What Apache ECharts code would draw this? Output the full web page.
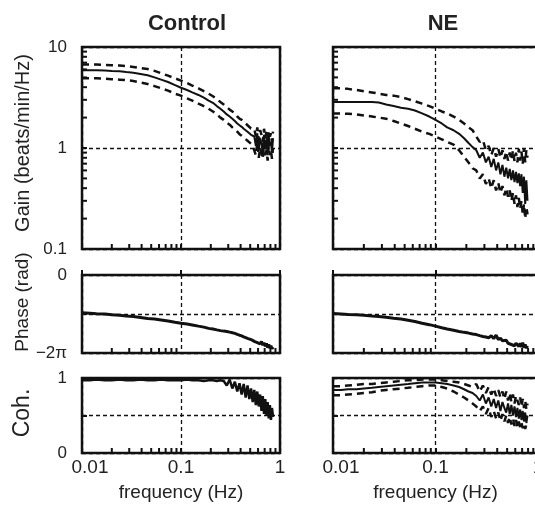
<!DOCTYPE html>
<html><head><meta charset="utf-8">
<script src="https://cdn.jsdelivr.net/npm/echarts/dist/echarts.min.js"></script>
<style>html,body{margin:0;padding:0;background:#fff}#c{width:535px;height:511px}</style>
</head><body><div id="c"></div>
<script>
// ---- data ----
const freq = [0.01,0.012,0.014,0.017,0.02,0.024,0.028,0.033,0.039,0.046,
  0.054,0.063,0.074,0.087,0.1,0.115,0.13,0.15,0.17,0.19,
  0.21,0.23,0.25,0.27,0.29,0.31,0.33,0.35,0.37,0.39,
  0.41,0.43,0.45,0.47,0.49,0.51,0.53,0.55,0.57,0.59,
  0.61,0.63,0.65,0.67,0.69,0.71,0.73,0.75,0.77,0.79,
  0.81,0.83,0.85];

const ctrlGain = [5.9,5.9,5.9,5.85,5.8,5.75,5.65,5.55,5.4,5.25,
  5.0,4.75,4.5,4.2,3.95,3.75,3.55,3.35,3.15,2.95,
  2.8,2.6,2.45,2.3,2.15,2.05,1.95,1.85,1.75,1.68,
  1.62,1.55,1.5,1.45,1.4,1.35,1.3,
  1.3,1.05,1.4,0.95,1.25,1.1,0.9,1.35,1.0,1.2,0.85,1.3,1.05,1.15,0.9,1.25];
const ctrlGainUp = [6.7,6.7,6.7,6.65,6.6,6.55,6.45,6.35,6.2,6.05,
  5.8,5.5,5.2,4.9,4.65,4.4,4.15,3.9,3.65,3.45,
  3.25,3.05,2.85,2.7,2.55,2.4,2.3,2.2,2.05,1.95,
  1.9,1.82,1.75,1.68,1.62,1.56,1.5,
  1.55,1.3,1.6,1.2,1.5,1.35,1.15,1.55,1.25,1.45,1.1,1.5,1.3,1.4,1.15,1.45];
const ctrlGainLo = [4.9,4.9,4.9,4.85,4.8,4.75,4.7,4.6,4.45,4.3,
  4.1,3.9,3.7,3.45,3.3,3.1,2.95,2.75,2.6,2.45,
  2.3,2.15,2.0,1.9,1.78,1.7,1.6,1.52,1.45,1.37,
  1.32,1.27,1.22,1.18,1.14,1.1,1.05,
  1.05,0.85,1.15,0.8,1.0,0.9,0.78,1.1,0.85,0.95,0.75,1.05,0.85,0.95,0.78,1.0];

const neGain = [2.85,2.85,2.85,2.85,2.85,2.85,2.82,2.7,2.6,2.5,
  2.45,2.35,2.2,2.05,1.9,1.75,1.6,1.5,1.38,1.25,
  1.12,1.02,0.95,0.8,0.9,0.72,0.82,0.65,0.78,0.6,
  0.72,0.55,0.68,0.52,0.64,0.5,0.62,0.48,0.6,0.46,
  0.58,0.45,0.56,0.42,0.55,0.36,0.52,0.28,0.48,0.3];
const neGainUp = [3.9,3.9,3.85,3.75,3.65,3.55,3.45,3.35,3.3,3.2,
  3.05,2.9,2.75,2.6,2.45,2.3,2.2,2.05,1.9,1.75,
  1.6,1.5,1.3,1.15,1.2,0.95,1.05,0.85,1.0,0.82,
  0.98,0.8,0.95,0.78,0.92,0.75,0.9,0.76,0.95,0.74,
  0.9,0.72,0.98,0.75,0.92,0.7,1.0,0.72,0.95,0.8];
const neGainLo = [2.2,2.2,2.18,2.15,2.1,2.05,2.0,1.95,1.85,1.75,
  1.65,1.55,1.45,1.38,1.3,1.22,1.15,1.08,0.95,0.82,
  0.72,0.63,0.6,0.5,0.55,0.44,0.5,0.4,0.48,0.38,
  0.45,0.36,0.42,0.34,0.4,0.33,0.38,0.3,0.36,0.28,
  0.34,0.26,0.32,0.25,0.3,0.22,0.28,0.2,0.26,0.22];

const ctrlPhase = [-3.05,-3.08,-3.12,-3.15,-3.2,-3.25,-3.3,-3.35,-3.42,-3.5,
  -3.55,-3.62,-3.7,-3.8,-3.88,-3.95,-4.02,-4.12,-4.2,-4.3,
  -4.35,-4.42,-4.48,-4.52,-4.55,-4.6,-4.65,-4.7,-4.78,-4.85,
  -4.9,-4.98,-5.02,-5.1,-5.15,-5.2,-5.25,-5.35,-5.2,-5.45,
  -5.3,-5.55,-5.35,-5.65,-5.45,-5.75,-5.5,-5.85,-5.6,-5.9,
  -5.7,-5.95,-5.8];
const nePhase = [-3.1,-3.14,-3.18,-3.2,-3.25,-3.3,-3.34,-3.4,-3.48,-3.55,
  -3.65,-3.75,-3.88,-4.0,-4.12,-4.25,-4.35,-4.45,-4.55,-4.62,
  -4.68,-4.75,-4.8,-4.88,-4.95,-5.0,-5.05,-4.9,-5.12,-4.85,
  -5.2,-5.1,-5.3,-5.4,-5.25,-5.5,-5.35,-5.6,-5.45,-5.7,
  -5.5,-5.4,-5.75,-5.5,-5.8,-5.45,-5.85,-5.6,-5.9,-5.7];

const ctrlCoh = [0.97,0.97,0.98,0.97,0.97,0.98,0.97,0.97,0.98,0.97,
  0.97,0.98,0.97,0.97,0.97,0.98,0.97,0.97,0.96,0.97,
  0.97,0.96,0.97,0.96,0.9,0.98,0.86,0.95,0.82,0.93,
  0.78,0.92,0.74,0.9,0.72,0.86,0.68,0.84,0.64,0.82,
  0.62,0.78,0.56,0.76,0.52,0.72,0.5,0.68,0.46,0.64,
  0.44,0.6,0.48];
const neCoh = [0.84,0.84,0.85,0.85,0.86,0.87,0.88,0.89,0.9,0.91,
  0.92,0.93,0.94,0.94,0.94,0.93,0.92,0.9,0.88,0.85,
  0.82,0.8,0.76,0.7,0.78,0.66,0.74,0.62,0.72,0.6,
  0.7,0.56,0.68,0.6,0.54,0.66,0.52,0.64,0.5,0.62,
  0.48,0.6,0.46,0.58,0.44,0.56,0.42,0.54,0.4,0.5];
const neCohUp = [0.89,0.89,0.9,0.91,0.92,0.92,0.93,0.94,0.95,0.96,
  0.97,0.97,0.98,0.98,0.98,0.97,0.96,0.95,0.94,0.92,
  0.9,0.88,0.92,0.82,0.9,0.8,0.88,0.78,0.86,0.76,
  0.84,0.74,0.82,0.72,0.82,0.7,0.8,0.68,0.78,0.66,
  0.76,0.7,0.64,0.74,0.62,0.72,0.6,0.7,0.58,0.66];
const neCohLo = [0.77,0.77,0.78,0.79,0.8,0.81,0.83,0.84,0.85,0.86,
  0.87,0.88,0.89,0.9,0.9,0.88,0.86,0.82,0.78,0.74,
  0.7,0.66,0.62,0.56,0.62,0.52,0.6,0.48,0.56,0.46,
  0.54,0.43,0.52,0.42,0.5,0.4,0.48,0.38,0.46,0.36,
  0.44,0.35,0.42,0.34,0.4,0.33,0.39,0.32,0.38,0.35];

const panelTitles = ['Control', 'NE'];
const axisNames = ['Gain (beats/min/Hz)', 'Phase (rad)', 'Coh.'];
const xName = 'frequency (Hz)';
const xTickLabels = {0.01: '0.01', 0.1: '0.1', 1: '1'};
const gainTickLabels = {0.1: '0.1', 1: '1', 10: '10'};
const decadeSteps = [2,3,4,5,6,7,8,9];
const xMinorTicks = [0.01, 0.1].flatMap(d => decadeSteps.map(s => +(d*s).toFixed(3)));
const gainMinorTicks = [0.1, 1].flatMap(d => decadeSteps.map(s => +(d*s).toFixed(3)));

// ---- chart ----
const INK = '#111';
const TXT = '#222';
const FONT = 'Liberation Sans, Arial, Helvetica, sans-serif';
const zip = (vals) => vals.map((v, i) => [freq[i], v]);

const gridDefs = [
  {left: 82, top: 47, width: 198, height: 202},
  {left: 333, top: 47, width: 205, height: 202},
  {left: 82, top: 275, width: 198, height: 78},
  {left: 333, top: 275, width: 205, height: 78},
  {left: 82, top: 378, width: 198, height: 75},
  {left: 333, top: 378, width: 205, height: 75}
];
const grid = gridDefs.map(g => Object.assign({show: true, borderColor: INK, borderWidth: 2.5,
  backgroundColor: 'transparent', containLabel: false, outerBoundsMode: 'none'}, g));

const dashGrid = {show: true, lineStyle: {color: INK, width: 1.3, type: [4, 3]}};

const xAxis = gridDefs.map((g, i) => ({
  type: 'log', logBase: 10, min: 0.01, max: 1, gridIndex: i,
  axisLine: {show: false},
  axisTick: {show: true, inside: true, length: 5, lineStyle: {color: INK, width: 2}},
  splitLine: dashGrid,
  axisLabel: {show: i >= 4, fontSize: 19, color: TXT, fontFamily: FONT, margin: 5,
    hideOverlap: false,
    formatter: v => {
      const k = +(+v).toPrecision(3);
      if (k === 0.01) return '{first|' + xTickLabels[k] + '}';
      return xTickLabels[k] || '';
    },
    rich: {first: {fontSize: 19, color: TXT, fontFamily: FONT, padding: [0, 0, 0, 16]}}},
  name: i >= 4 ? xName : '', nameLocation: 'middle', nameGap: 30,
  nameTextStyle: {fontSize: 19, color: TXT, fontFamily: FONT}
}));

const TWO_PI = 2 * Math.PI;
const yLabelStyle = {fontSize: 17, color: TXT, fontFamily: FONT, margin: 15};
const yAxis = [
  {type: 'log', logBase: 10, min: 0.1, max: 10, gridIndex: 0,
    axisLabel: Object.assign({formatter: v => gainTickLabels[+(+v).toPrecision(3)] || ''}, yLabelStyle)},
  {type: 'log', logBase: 10, min: 0.1, max: 10, gridIndex: 1, axisLabel: {show: false}},
  {type: 'value', min: -TWO_PI, max: 0, interval: Math.PI, gridIndex: 2,
    axisLabel: Object.assign({formatter: v => (Math.abs(v) < 1e-6 ? '0' : (Math.abs(v + TWO_PI) < 1e-6 ? '\u22122\u03c0' : ''))}, yLabelStyle)},
  {type: 'value', min: -TWO_PI, max: 0, interval: Math.PI, gridIndex: 3, axisLabel: {show: false}},
  {type: 'value', min: 0, max: 1, interval: 0.5, gridIndex: 4,
    axisLabel: Object.assign({formatter: v => (v === 0 ? '0' : (v === 1 ? '1' : ''))}, yLabelStyle)},
  {type: 'value', min: 0, max: 1, interval: 0.5, gridIndex: 5, axisLabel: {show: false}}
].map(a => Object.assign({
  axisLine: {show: false},
  axisTick: {show: true, inside: true, length: 5, lineStyle: {color: INK, width: 2}},
  splitLine: dashGrid
}, a));

function line(gi, vals, dashed, width) {
  return {type: 'line', xAxisIndex: gi, yAxisIndex: gi, data: zip(vals), symbol: 'none',
    silent: true, z: 3,
    lineStyle: {color: INK, width: width, type: dashed ? [7, 5] : 'solid'}};
}
function xTicks(gi, yMin) {
  return {type: 'custom', xAxisIndex: gi, yAxisIndex: gi, silent: true, z: 6,
    data: xMinorTicks.map(v => [v, yMin]),
    renderItem: (p, api) => {
      const c = api.coord([api.value(0), api.value(1)]);
      return {type: 'line', shape: {x1: c[0], y1: c[1], x2: c[0], y2: c[1] - 5},
        style: {stroke: INK, lineWidth: 2}};
    }};
}
function yTicks(gi, xMin) {
  return {type: 'custom', xAxisIndex: gi, yAxisIndex: gi, silent: true, z: 6,
    data: gainMinorTicks.map(v => [xMin, v]),
    renderItem: (p, api) => {
      const c = api.coord([api.value(0), api.value(1)]);
      return {type: 'line', shape: {x1: c[0], y1: c[1], x2: c[0] + 5, y2: c[1]},
        style: {stroke: INK, lineWidth: 2}};
    }};
}

const series = [
  line(0, ctrlGainUp, true, 2.5), line(0, ctrlGainLo, true, 2.5), line(0, ctrlGain, false, 2),
  line(1, neGainUp, true, 2.5), line(1, neGainLo, true, 2.5), line(1, neGain, false, 2),
  line(2, ctrlPhase, false, 3),
  line(3, nePhase, false, 3),
  line(4, ctrlCoh, false, 2.5),
  line(5, neCohUp, true, 2.5), line(5, neCohLo, true, 2.5), line(5, neCoh, false, 2),
  xTicks(0, 0.1), xTicks(1, 0.1), xTicks(2, -TWO_PI), xTicks(3, -TWO_PI), xTicks(4, 0), xTicks(5, 0),
  yTicks(0, 0.01), yTicks(1, 0.01)
];

const title = [
  {text: panelTitles[0], left: 182, top: 8, textAlign: 'center',
    textStyle: {fontSize: 22, fontWeight: 'bold', color: TXT, fontFamily: FONT}},
  {text: panelTitles[1], left: 438, top: 8, textAlign: 'center',
    textStyle: {fontSize: 22, fontWeight: 'bold', color: TXT, fontFamily: FONT}}
];

const nameSpecs = [
  {text: axisNames[0], x: 23, y: 143, size: 20},
  {text: axisNames[1], x: 23, y: 302, size: 19},
  {text: axisNames[2], x: 23, y: 413, size: 23}
];
const graphic = nameSpecs.map(s => ({
  type: 'text', x: s.x, y: s.y, rotation: Math.PI / 2, silent: true,
  style: {text: s.text, fontSize: s.size, fontFamily: FONT, fill: TXT, align: 'center', verticalAlign: 'middle'}
}));

const chart = echarts.init(document.getElementById('c'), null, {renderer: 'canvas'});
chart.setOption({animation: false, backgroundColor: '#fff', title, grid, xAxis, yAxis, series, graphic});
</script></body></html>
